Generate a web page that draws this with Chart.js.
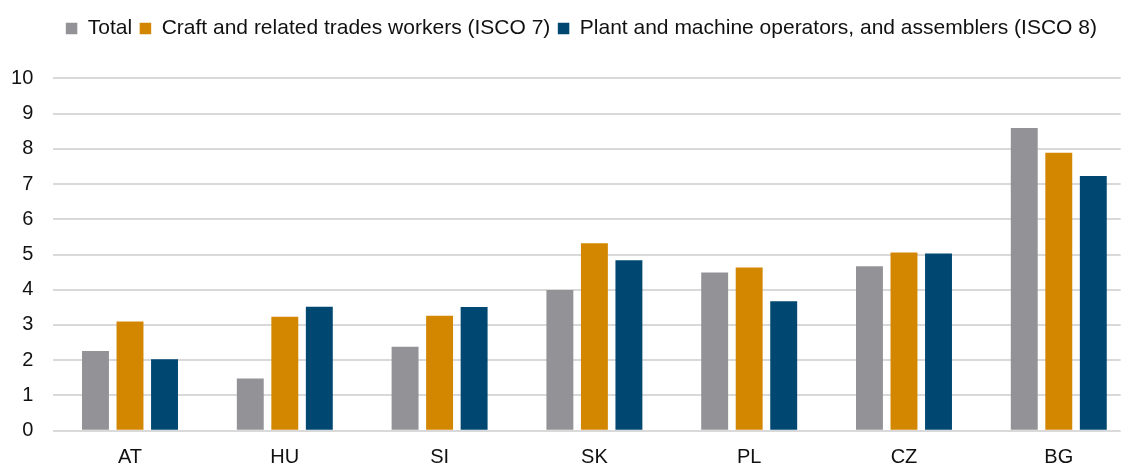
<!DOCTYPE html>
<html>
<head>
<meta charset="utf-8">
<script src="https://cdn.jsdelivr.net/npm/chart.js@4.4.1/dist/chart.umd.min.js"></script>
<style>
  html, body { margin: 0; padding: 0; background: #ffffff; }
  #wrap { width: 1124px; height: 465px; position: relative; }
</style>
</head>
<body>
<div id="wrap"><canvas id="c" width="1124" height="465"></canvas></div>
<script>
const categories = ["AT", "HU", "SI", "SK", "PL", "CZ", "BG"];
const seriesNames = ["Total", "Craft and related trades workers (ISCO 7)", "Plant and machine operators, and assemblers (ISCO 8)"];
const totalValues = [2.26, 1.48, 2.38, 3.99, 4.49, 4.67, 8.59];
const craftValues = [3.10, 3.23, 3.26, 5.32, 4.63, 5.06, 7.89];
const plantValues = [2.03, 3.52, 3.51, 4.84, 3.67, 5.03, 7.23];
const yTicks = [0, 1, 2, 3, 4, 5, 6, 7, 8, 9, 10];

const colors = ["#939397", "#d38700", "#004872"];
const FONT = "'Liberation Sans', Arial, sans-serif";

function toPoints(vals) { return vals.map((v, i) => ({ x: i, y: v })); }

const LEGEND_SHIFT = 21;
const legendTweak = {
  id: 'legendTweak',
  beforeInit(chart) {
    const lg = chart.legend;
    const fit = lg.fit;
    lg.fit = function () { fit.call(lg); this.height += 29.3; };
    const draw = lg.draw;
    lg.draw = function (area) {
      const ctx = this.ctx;
      ctx.save();
      ctx.translate(LEGEND_SHIFT, 0);
      draw.call(lg, area);
      ctx.restore();
    };
  }
};

new Chart(document.getElementById('c'), {
  type: 'bar',
  data: {
    datasets: [
      { label: seriesNames[0], data: toPoints(totalValues), backgroundColor: colors[0] },
      { label: seriesNames[1], data: toPoints(craftValues), backgroundColor: colors[1] },
      { label: seriesNames[2], data: toPoints(plantValues), backgroundColor: colors[2] }
    ]
  },
  options: {
    responsive: false,
    animation: false,
    devicePixelRatio: 1,
    layout: { padding: { top: 10.5, right: 3.3, left: 0, bottom: 0 } },
    datasets: { bar: { categoryPercentage: 0.669, barPercentage: 0.78, borderWidth: 0 } },
    plugins: {
      legend: {
        position: 'top',
        align: 'center',
        labels: {
          color: '#111111',
          font: { family: FONT, size: 21 },
          boxWidth: 11.5,
          boxHeight: 11.5,
          padding: 7.5
        }
      },
      tooltip: { enabled: false }
    },
    scales: {
      x: {
        type: 'linear',
        offset: false,
        min: -0.5,
        max: 6.4,
        afterBuildTicks: (scale) => { scale.ticks = categories.map((c, i) => ({ value: i })); },
        afterFit: (scale) => { scale.height = 34.3; },
        grid: { display: false, drawTicks: false },
        border: { display: false },
        ticks: {
          autoSkip: false,
          maxRotation: 0,
          padding: 15,
          color: '#111111',
          font: { family: FONT, size: 20 },
          callback: (v) => categories[v] !== undefined ? categories[v] : ''
        }
      },
      y: {
        min: 0,
        max: 10,
        afterBuildTicks: (scale) => { scale.ticks = yTicks.map(v => ({ value: v })); },
        afterFit: (scale) => { scale.width = 52.6; },
        grid: { color: '#d9d9d9', lineWidth: 2, drawTicks: false },
        border: { display: false },
        ticks: {
          padding: 19.3,
          color: '#111111',
          font: { family: FONT, size: 20 }
        }
      }
    }
  },
  plugins: [legendTweak]
});
</script>
</body>
</html>
